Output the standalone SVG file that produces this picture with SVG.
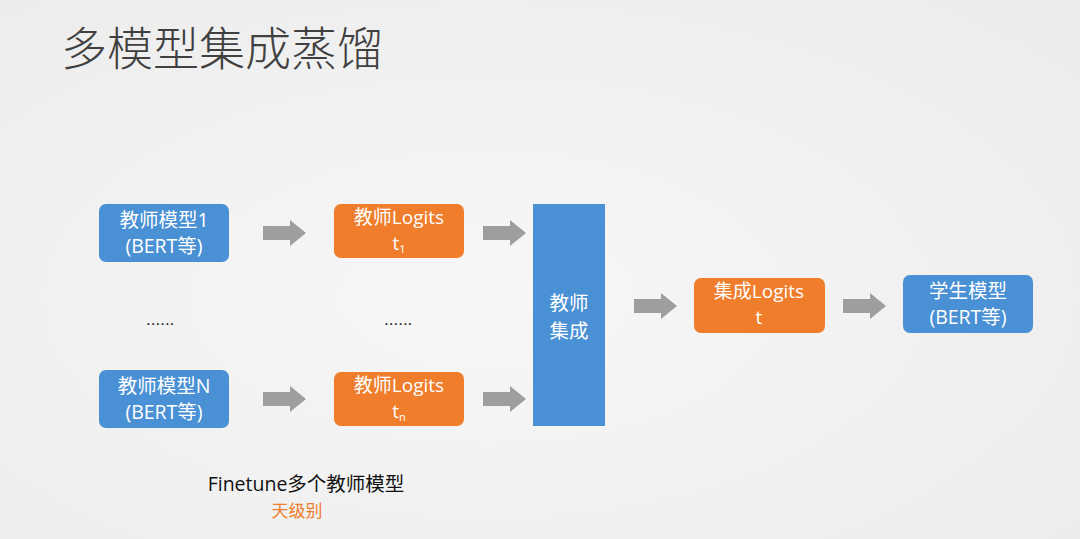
<svg xmlns="http://www.w3.org/2000/svg" width="1080" height="539" viewBox="0 0 1080 539">
<defs>
<radialGradient id="bg" cx="0.45" cy="0.55" r="0.75">
<stop offset="0" stop-color="#f7f7f7"/>
<stop offset="1" stop-color="#ececec"/>
</radialGradient>
</defs>
<style>
.blue{fill:#4a90d4;}
.orange{fill:#ef7d2c;}
.t{font-family:"Open Sans","Noto Sans CJK SC",sans-serif;font-size:19.5px;fill:#ffffff;text-anchor:middle;}
.o{font-size:19px;}
.a{fill:#9e9e9e;}
.dots{font-family:"Liberation Sans","Noto Sans CJK SC",sans-serif;font-size:17px;fill:#222;}
</style>
<rect width="1080" height="539" fill="url(#bg)"/>
<text x="61" y="65" font-family="Noto Sans CJK SC, sans-serif" font-size="46" font-weight="300" fill="#404040">多模型集成蒸馏</text>

<g id="connectors">
<path class="a" d="M263,226 H290 V220 L306,233 L290,246 V240 H263 Z"/>
<path class="a" d="M483,226 H510 V220 L526,233 L510,246 V240 H483 Z"/>
<path class="a" d="M263,392 H290 V386 L306,399 L290,412 V406 H263 Z"/>
<path class="a" d="M483,392 H510 V386 L526,399 L510,412 V406 H483 Z"/>
<path class="a" d="M634,299 H661 V293 L677,306 L661,319 V313 H634 Z"/>
<path class="a" d="M843,299 H870 V293 L886,306 L870,319 V313 H843 Z"/>
</g>

<g id="teacher1">
<rect class="blue" x="99" y="204" width="130" height="58" rx="7"/>
<text class="t" x="164" y="227">教师模型1</text>
<text class="t" x="164" y="253">(BERT等)</text>
</g>
<g id="teacherN">
<rect class="blue" x="99" y="370" width="130" height="58" rx="7"/>
<text class="t" x="164" y="393">教师模型N</text>
<text class="t" x="164" y="419">(BERT等)</text>
</g>
<g id="dots1"><text class="dots" x="146" y="325">......</text></g>
<g id="dots2"><text class="dots" x="384" y="325">......</text></g>
<g id="logits1">
<rect class="orange" x="334" y="204" width="130" height="54" rx="7"/>
<text class="t o" x="399" y="224">教师Logits</text>
<text class="t o" x="399" y="250">t<tspan font-size="11" dy="3">1</tspan></text>
</g>
<g id="logitsN">
<rect class="orange" x="334" y="372" width="130" height="54" rx="7"/>
<text class="t o" x="399" y="392">教师Logits</text>
<text class="t o" x="399" y="418">t<tspan font-size="11" dy="3">n</tspan></text>
</g>
<g id="ensemble">
<rect class="blue" x="533" y="204" width="72" height="222"/>
<text class="t" x="569" y="310" font-size="22">教师</text>
<text class="t" x="569" y="338" font-size="22">集成</text>
</g>
<g id="ensLogits">
<rect class="orange" x="694" y="278" width="131" height="55" rx="7"/>
<text class="t o" x="759" y="298">集成Logits</text>
<text class="t o" x="759" y="324">t</text>
</g>
<g id="student">
<rect class="blue" x="903" y="275" width="130" height="58" rx="7"/>
<text class="t" x="968" y="298">学生模型</text>
<text class="t" x="968" y="324">(BERT等)</text>
</g>
<g id="note">
<text x="306" y="491" font-family="Open Sans, Noto Sans CJK SC, sans-serif" font-size="19.5" fill="#111" text-anchor="middle">Finetune多个教师模型</text>
<text x="297" y="517" font-family="Noto Sans CJK SC, sans-serif" font-size="17" fill="#ef7d2c" text-anchor="middle">天级别</text>
</g>
</svg>
